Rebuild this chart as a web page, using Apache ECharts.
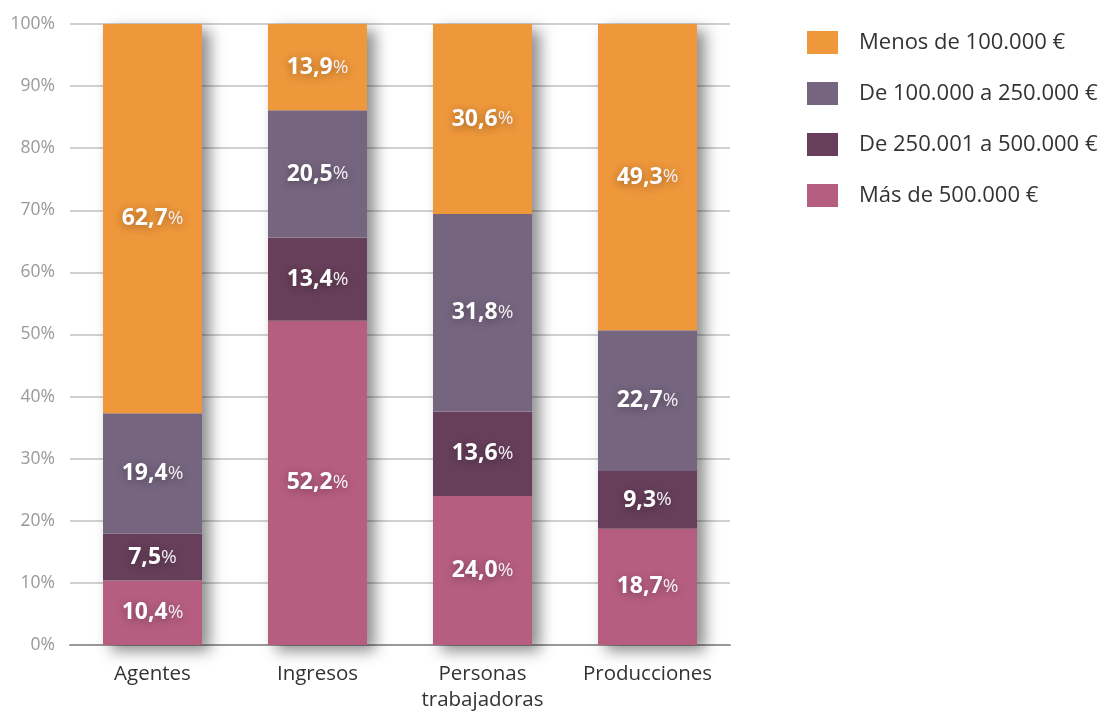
<!DOCTYPE html>
<html><head><meta charset="utf-8">
<script src="https://cdn.jsdelivr.net/npm/echarts@6/dist/echarts.min.js"></script>
<style>html,body{margin:0;padding:0;background:#fff}#c{width:1112px;height:713px}</style>
</head><body><div id="c"></div>
<script>
const categories = ['Agentes', 'Ingresos', 'Personas\ntrabajadoras', 'Producciones'];
const seriesNames = ['Más de 500.000 €', 'De 250.001 a 500.000 €', 'De 100.000 a 250.000 €', 'Menos de 100.000 €'];
const mas500 = [10.4, 52.2, 24.0, 18.7];
const de250a500 = [7.5, 13.4, 13.6, 9.3];
const de100a250 = [19.4, 20.5, 31.8, 22.7];
const menos100 = [62.7, 13.9, 30.6, 49.3];
const yTicks = [0, 10, 20, 30, 40, 50, 60, 70, 80, 90, 100];
const colors = ['#B65E80', '#673F5A', '#76657F', '#EE973B'];
const values = [mas500, de250a500, de100a250, menos100];
const FONT = '"Open Sans", "Noto Sans", sans-serif';

const labelCfg = {
  show: true,
  position: 'inside',
  formatter: p => '{a|' + p.value.toFixed(1).replace('.', ',') + '}{b|%}',
  rich: {
    a: {fontFamily: FONT, fontWeight: 'bold', fontSize: 23, color: '#fff',
        textShadowColor: 'rgba(0,0,0,0.35)', textShadowBlur: 8, textShadowOffsetY: 2},
    b: {fontFamily: FONT, fontWeight: 'normal', fontSize: 19, color: '#f3eef3',
        textShadowColor: 'rgba(0,0,0,0.35)', textShadowBlur: 8, textShadowOffsetY: 2}
  }
};

const series = [{
  name: 'shadow', type: 'bar', data: categories.map(() => 100), barWidth: 99, barGap: '-100%',
  itemStyle: {color: '#fff', shadowColor: 'rgba(0,0,0,0.45)', shadowBlur: 14, shadowOffsetX: 8, shadowOffsetY: 6},
  z: 1, silent: true, label: {show: false}
}];
values.forEach((v, i) => series.push({
  name: seriesNames[i], type: 'bar', stack: 'total', data: v, barWidth: 99,
  itemStyle: {color: colors[i]}, label: labelCfg, z: 2
}));

const chart = echarts.init(document.getElementById('c'), null, {renderer: 'canvas'});
chart.setOption({
  animation: false,
  grid: {left: 70, right: 382, top: 24, bottom: 68},
  legend: {
    data: seriesNames.slice().reverse(), orient: 'vertical', left: 802, top: 26,
    itemWidth: 31, itemHeight: 23, itemGap: 28, icon: 'rect',
    textStyle: {fontFamily: FONT, fontSize: 22, lineHeight: 23, color: '#333', padding: [0, 0, 0, 16]}
  },
  xAxis: {
    type: 'category', data: categories,
    axisLine: {lineStyle: {color: '#999', width: 2}}, axisTick: {show: false},
    axisLabel: {interval: 0, hideOverlap: false, fontFamily: FONT, fontSize: 20.5, color: '#333', margin: 16, lineHeight: 26}
  },
  yAxis: {
    type: 'value', min: 0, max: 100, interval: 10,
    axisLabel: {fontFamily: FONT, fontSize: 17.5, color: '#999', margin: 15, formatter: v => yTicks.includes(v) ? v + '%' : ''},
    splitLine: {lineStyle: {color: '#d0d0d0', width: 2}},
    axisLine: {show: false}, axisTick: {show: false}
  },
  series: series
});
</script></body></html>
